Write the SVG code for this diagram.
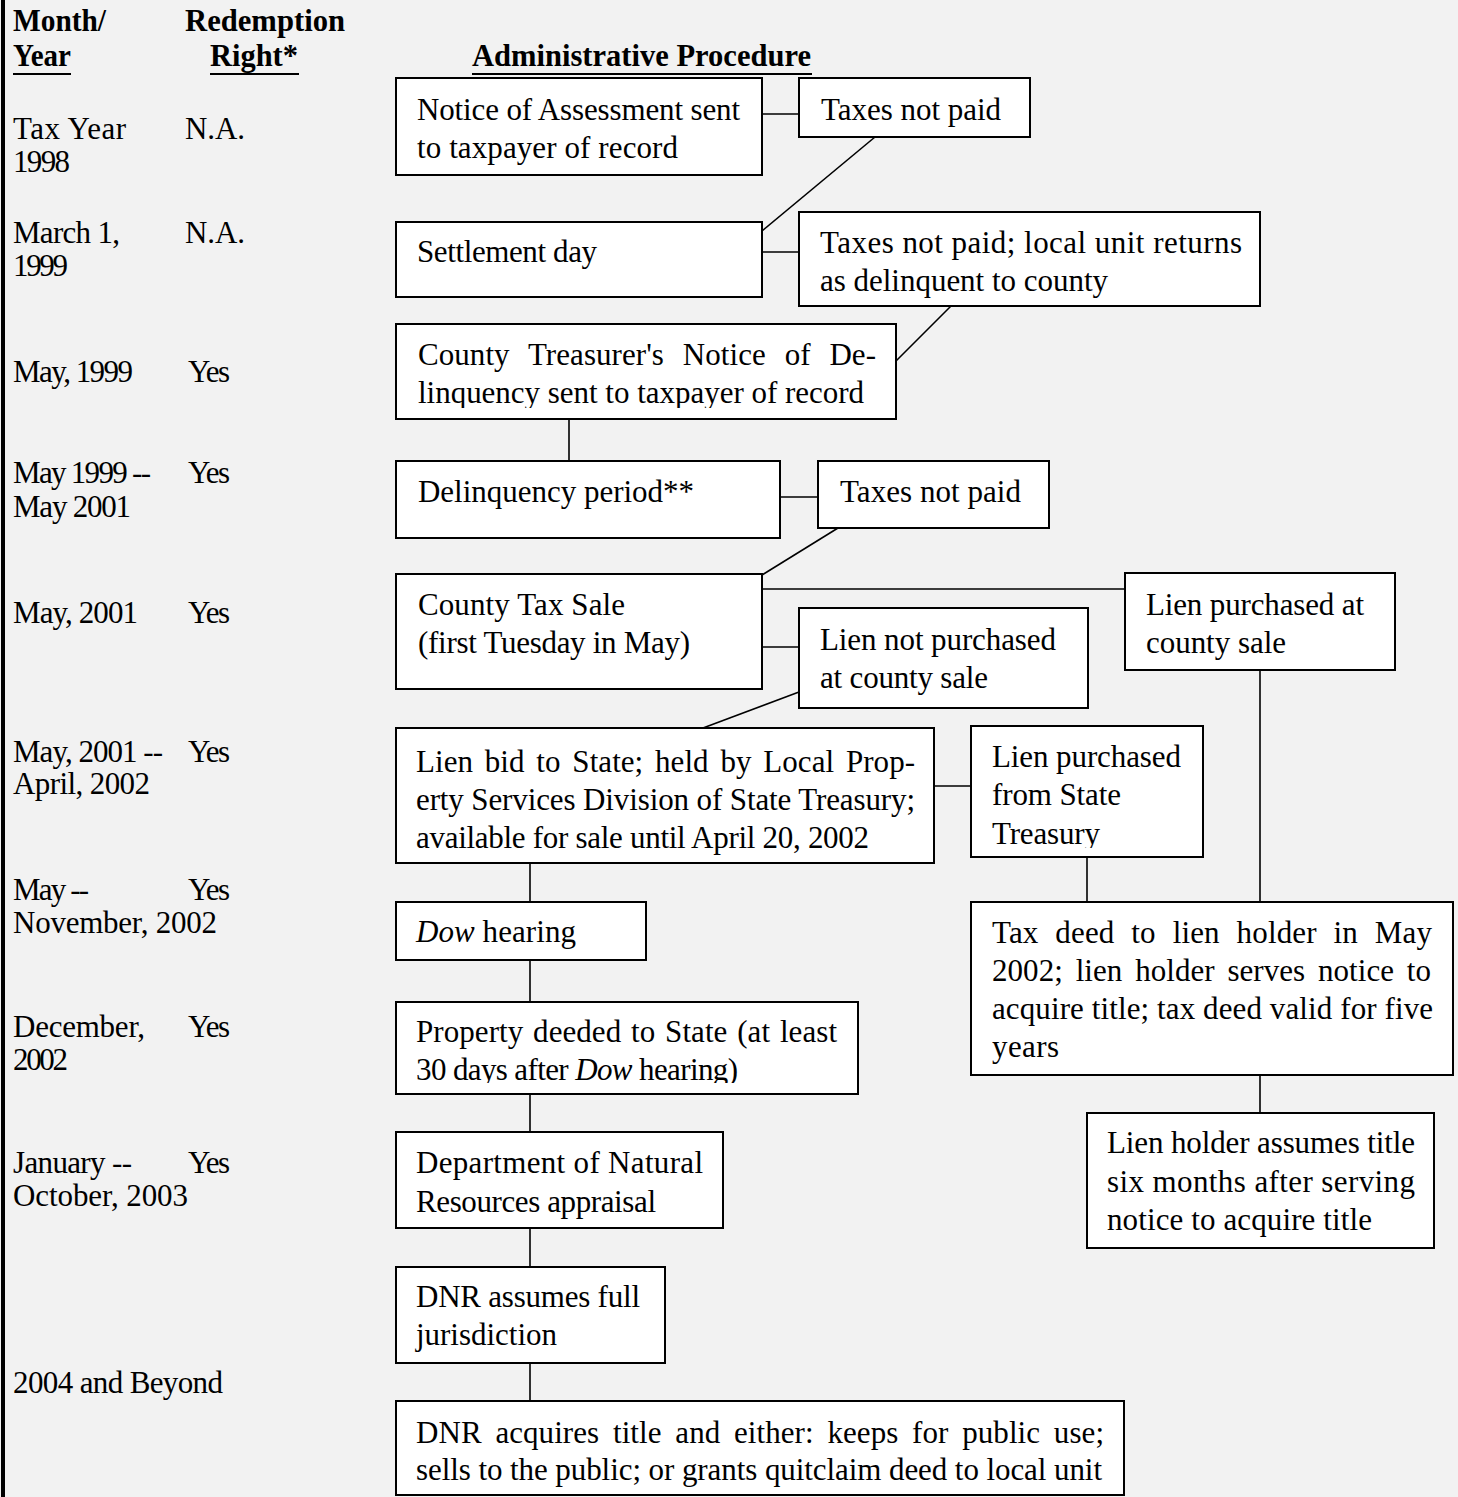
<svg xmlns="http://www.w3.org/2000/svg" width="1458" height="1497" viewBox="0 0 1458 1497">
<style>
.bg{fill:#f2f2f2}
.box{fill:#fff;stroke:#000;stroke-width:2}
.t{font-family:"Liberation Serif","Times New Roman",serif;font-size:31px;fill:#000}
.h{font-weight:bold}
.ul{stroke:#000;stroke-width:2}
.c line{stroke:#000;stroke-width:1.6}
</style>
<defs>
<clipPath id="clip5"><rect x="396" y="324" width="500" height="84"/></clipPath>
<clipPath id="clip12"><rect x="971" y="726" width="232" height="122"/></clipPath>
<clipPath id="clip16"><rect x="396" y="1002" width="462" height="81"/></clipPath>
<clipPath id="clip19"><rect x="396" y="1401" width="728" height="86"/></clipPath>
</defs>
<rect class="bg" x="0" y="0" width="1458" height="1497"/>
<rect x="1" y="0" width="4" height="1497" fill="#000"/>

<g id="header">
<text class="t h" x="13" y="31" textLength="93" lengthAdjust="spacingAndGlyphs">Month/</text>
<text class="t h" x="13" y="66" textLength="58" lengthAdjust="spacingAndGlyphs">Year</text>
<line class="ul" x1="13" y1="74" x2="71" y2="74"/>
<text class="t h" x="185" y="31" textLength="160" lengthAdjust="spacingAndGlyphs">Redemption</text>
<text class="t h" x="210" y="66" textLength="88" lengthAdjust="spacingAndGlyphs">Right*</text>
<line class="ul" x1="210" y1="74" x2="299" y2="74"/>
<text class="t h" x="472" y="66" textLength="339" lengthAdjust="spacingAndGlyphs">Administrative Procedure</text>
<line class="ul" x1="472" y1="74" x2="812" y2="74"/>
</g>

<g id="timeline">
<text class="t" x="13" y="139" textLength="113">Tax Year</text>
<text class="t" x="13" y="172" textLength="57">1998</text>
<text class="t" x="185" y="139" textLength="60">N.A.</text>
<text class="t" x="13" y="243" textLength="107">March 1,</text>
<text class="t" x="13" y="276" textLength="55">1999</text>
<text class="t" x="185" y="243" textLength="60">N.A.</text>
<text class="t" x="13" y="382" textLength="120">May, 1999</text>
<text class="t" x="188" y="382" textLength="42">Yes</text>
<text class="t" x="13" y="483" textLength="138">May 1999 --</text>
<text class="t" x="13" y="517" textLength="118">May 2001</text>
<text class="t" x="188" y="483" textLength="42">Yes</text>
<text class="t" x="13" y="623" textLength="125">May, 2001</text>
<text class="t" x="188" y="623" textLength="42">Yes</text>
<text class="t" x="13" y="762" textLength="150">May, 2001 --</text>
<text class="t" x="13" y="794" textLength="137">April, 2002</text>
<text class="t" x="188" y="762" textLength="42">Yes</text>
<text class="t" x="13" y="900" textLength="76">May --</text>
<text class="t" x="13" y="933" textLength="204">November, 2002</text>
<text class="t" x="188" y="900" textLength="42">Yes</text>
<text class="t" x="13" y="1037" textLength="132">December,</text>
<text class="t" x="13" y="1070" textLength="55">2002</text>
<text class="t" x="188" y="1037" textLength="42">Yes</text>
<text class="t" x="13" y="1173" textLength="119">January --</text>
<text class="t" x="13" y="1206" textLength="175">October, 2003</text>
<text class="t" x="188" y="1173" textLength="42">Yes</text>
<text class="t" x="13" y="1393" textLength="210">2004 and Beyond</text>
</g>

<g id="connectors" class="c">
<line x1="762" y1="114" x2="799" y2="114"/>
<line x1="875" y1="137" x2="762" y2="231"/>
<line x1="762" y1="252" x2="799" y2="252"/>
<line x1="951" y1="306" x2="896" y2="361"/>
<line x1="569" y1="419" x2="569" y2="461"/>
<line x1="780" y1="497" x2="818" y2="497"/>
<line x1="838" y1="528" x2="762" y2="575"/>
<line x1="762" y1="589" x2="1125" y2="589"/>
<line x1="762" y1="647" x2="799" y2="647"/>
<line x1="799" y1="692" x2="703" y2="728"/>
<line x1="934" y1="786" x2="971" y2="786"/>
<line x1="1260" y1="670" x2="1260" y2="902"/>
<line x1="1087" y1="857" x2="1087" y2="902"/>
<line x1="1260" y1="1075" x2="1260" y2="1113"/>
<line x1="530" y1="863" x2="530" y2="902"/>
<line x1="530" y1="960" x2="530" y2="1002"/>
<line x1="530" y1="1094" x2="530" y2="1132"/>
<line x1="530" y1="1228" x2="530" y2="1267"/>
<line x1="530" y1="1363" x2="530" y2="1401"/>
</g>

<g id="n1">
<rect class="box" x="396" y="78" width="366" height="97"/>
<text class="t" x="417" y="120" textLength="323">Notice of Assessment sent</text>
<text class="t" x="417" y="158" textLength="261">to taxpayer of record</text>
</g>
<g id="n2">
<rect class="box" x="799" y="78" width="231" height="59"/>
<text class="t" x="821" y="120" textLength="180">Taxes not paid</text>
</g>
<g id="n3">
<rect class="box" x="396" y="222" width="366" height="75"/>
<text class="t" x="417" y="262" textLength="180">Settlement day</text>
</g>
<g id="n4">
<rect class="box" x="799" y="212" width="461" height="94"/>
<text class="t" x="820" y="253" textLength="422">Taxes not paid; local unit returns</text>
<text class="t" x="820" y="291" textLength="288">as delinquent to county</text>
</g>
<g id="n5">
<rect class="box" x="396" y="324" width="500" height="95"/>
<g clip-path="url(#clip5)">
<text class="t" x="418" y="365" word-spacing="11" textLength="458">County Treasurer's Notice of De-</text>
<text class="t" x="418" y="403" textLength="446">linquency sent to taxpayer of record</text>
</g>
</g>
<g id="n6">
<rect class="box" x="396" y="461" width="384" height="77"/>
<text class="t" x="418" y="502" textLength="276">Delinquency period**</text>
</g>
<g id="n7">
<rect class="box" x="818" y="461" width="231" height="67"/>
<text class="t" x="840" y="502" textLength="181">Taxes not paid</text>
</g>
<g id="n8">
<rect class="box" x="396" y="574" width="366" height="115"/>
<text class="t" x="418" y="615" textLength="207">County Tax Sale</text>
<text class="t" x="418" y="653" textLength="272">(first Tuesday in May)</text>
</g>
<g id="n9">
<rect class="box" x="1125" y="573" width="270" height="97"/>
<text class="t" x="1146" y="615" textLength="218">Lien purchased at</text>
<text class="t" x="1146" y="653" textLength="140">county sale</text>
</g>
<g id="n10">
<rect class="box" x="799" y="608" width="289" height="100"/>
<text class="t" x="820" y="650" textLength="236">Lien not purchased</text>
<text class="t" x="820" y="688" textLength="168">at county sale</text>
</g>
<g id="n11">
<rect class="box" x="396" y="728" width="538" height="135"/>
<text class="t" x="416" y="772" word-spacing="4" textLength="499">Lien bid to State; held by Local Prop-</text>
<text class="t" x="416" y="810" textLength="499">erty Services Division of State Treasury;</text>
<text class="t" x="416" y="848" textLength="453">available for sale until April 20, 2002</text>
</g>
<g id="n12">
<rect class="box" x="971" y="726" width="232" height="131"/>
<g clip-path="url(#clip12)">
<text class="t" x="992" y="767" textLength="189">Lien purchased</text>
<text class="t" x="992" y="805" textLength="129">from State</text>
<text class="t" x="992" y="844" textLength="108">Treasury</text>
</g>
</g>
<g id="n13">
<rect class="box" x="971" y="902" width="482" height="173"/>
<text class="t" x="992" y="943" word-spacing="9" textLength="440">Tax deed to lien holder in May</text>
<text class="t" x="992" y="981" word-spacing="5" textLength="439">2002; lien holder serves notice to</text>
<text class="t" x="992" y="1019" textLength="441">acquire title; tax deed valid for five</text>
<text class="t" x="992" y="1057" textLength="67">years</text>
</g>
<g id="n14">
<rect class="box" x="1087" y="1113" width="347" height="135"/>
<text class="t" x="1107" y="1153" textLength="308">Lien holder assumes title</text>
<text class="t" x="1107" y="1192" textLength="308">six months after serving</text>
<text class="t" x="1107" y="1230" textLength="265">notice to acquire title</text>
</g>
<g id="n15">
<rect class="box" x="396" y="902" width="250" height="58"/>
<text class="t" x="416" y="942" textLength="160"><tspan font-style="italic">Dow</tspan> hearing</text>
</g>
<g id="n16">
<rect class="box" x="396" y="1002" width="462" height="92"/>
<g clip-path="url(#clip16)">
<text class="t" x="416" y="1042" word-spacing="2" textLength="421">Property deeded to State (at least</text>
<text class="t" x="416" y="1080" textLength="322">30 days after <tspan font-style="italic">Dow</tspan> hearing)</text>
</g>
</g>
<g id="n17">
<rect class="box" x="396" y="1132" width="327" height="96"/>
<text class="t" x="416" y="1173" textLength="287">Department of Natural</text>
<text class="t" x="416" y="1212" textLength="240">Resources appraisal</text>
</g>
<g id="n18">
<rect class="box" x="396" y="1267" width="269" height="96"/>
<text class="t" x="416" y="1307" textLength="224">DNR assumes full</text>
<text class="t" x="416" y="1345" textLength="141">jurisdiction</text>
</g>
<g id="n19">
<rect class="box" x="396" y="1401" width="728" height="94"/>
<g clip-path="url(#clip19)">
<text class="t" x="416" y="1443" word-spacing="6" textLength="688">DNR acquires title and either: keeps for public use;</text>
<text class="t" x="416" y="1480" textLength="686">sells to the public; or grants quitclaim deed to local unit</text>
</g>
</g>
</svg>
